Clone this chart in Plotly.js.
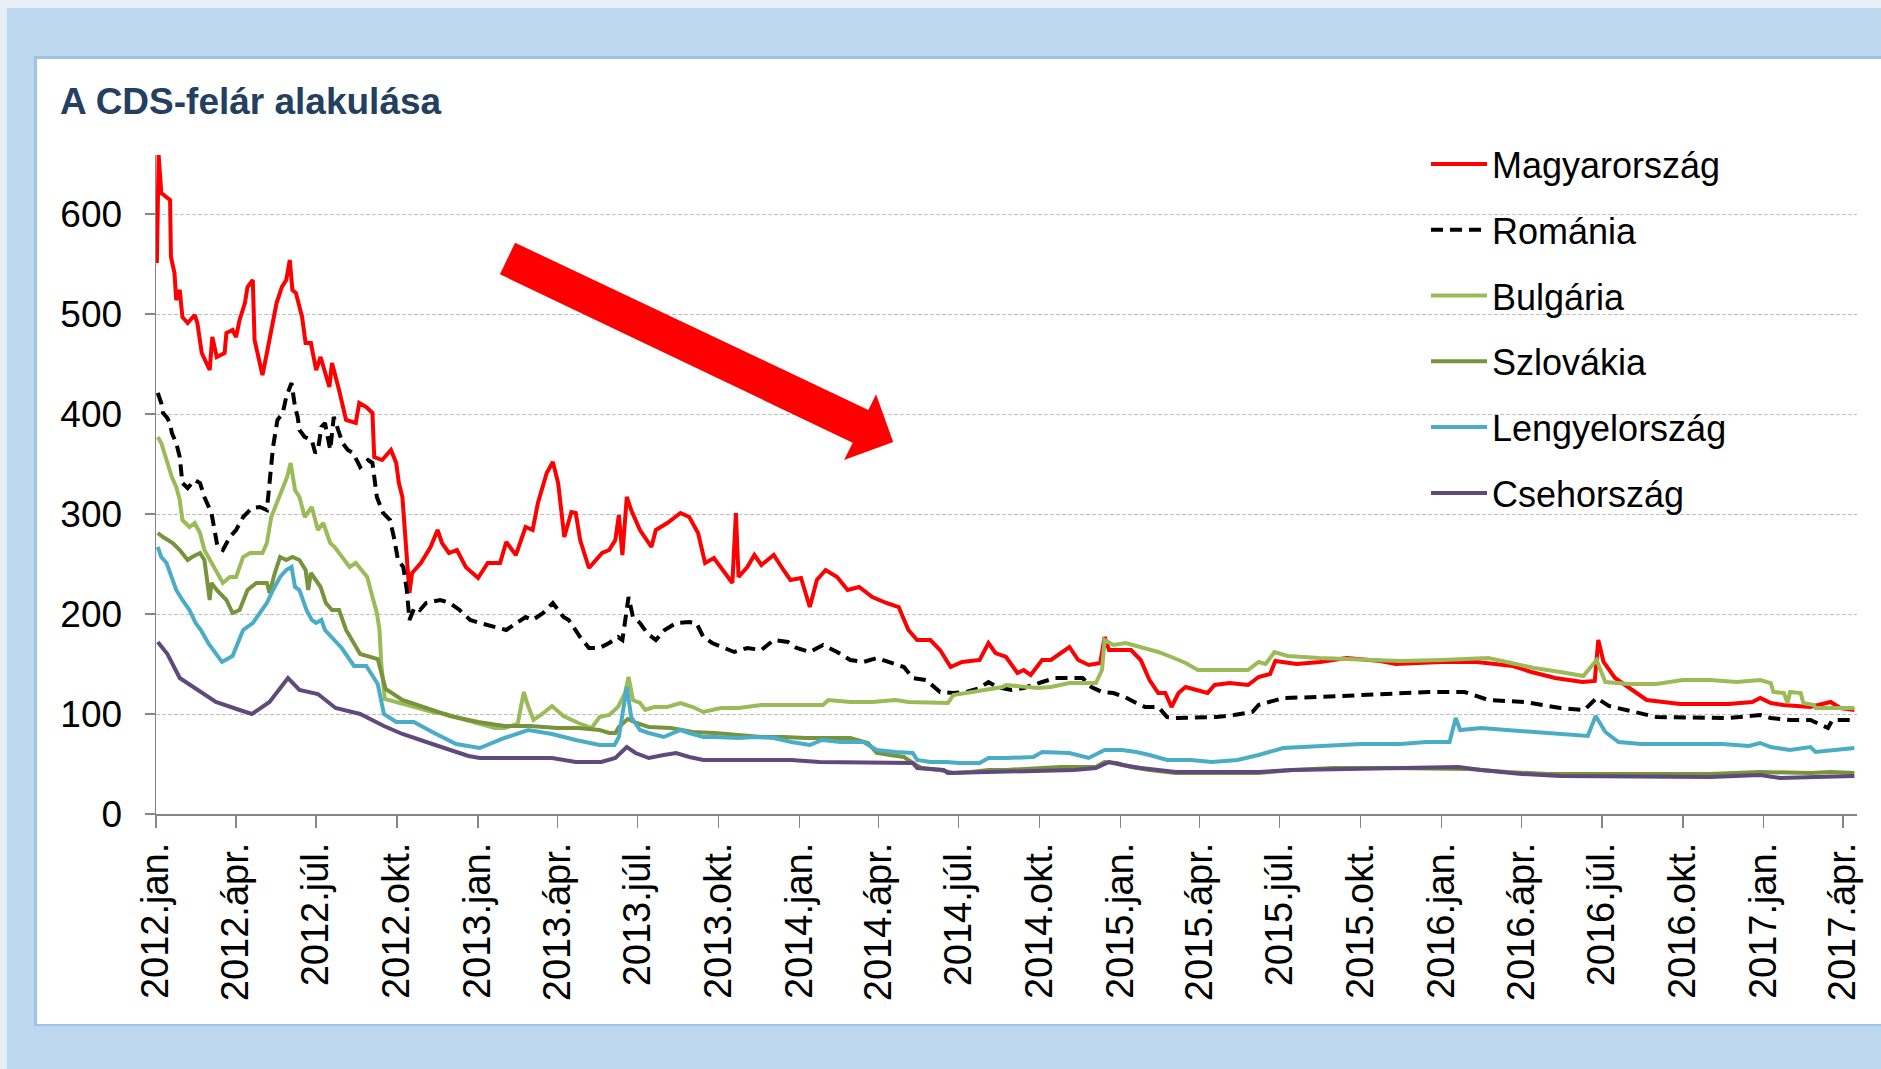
<!DOCTYPE html>
<html>
<head>
<meta charset="utf-8">
<script src="https://cdn.plot.ly/plotly-3.0.1.min.js"></script>
<style>
  html, body { margin:0; padding:0; background:#E8EEF6; }
  #bg { position:absolute; left:7px; top:8px; width:1874px; height:1061px; background:#BDD7EE; }
  #panel { position:absolute; left:34px; top:56px; width:1847px; height:970px; background:#FFFFFF;
           border-left:3px solid #9DC3E6; border-top:3px solid #9DC3E6; border-bottom:2px solid #9DC3E6; box-sizing:border-box; }
  #chart { position:absolute; left:0; top:0; width:1881px; height:1069px; }
</style>
</head>
<body>
<div id="bg"></div>
<div id="panel"></div>
<div id="chart"></div>
<script>
// ---- Data (bp) ----
const seriesNames = ['Magyarország','Románia','Bulgária','Szlovákia','Lengyelország','Csehország'];

const huDates = ['2012-01-02','2012-01-04','2012-01-07','2012-01-17','2012-01-18','2012-01-22','2012-01-24','2012-01-28','2012-01-31','2012-02-06','2012-02-14','2012-02-17','2012-02-22','2012-03-02','2012-03-05','2012-03-10','2012-03-19','2012-03-21','2012-03-28','2012-04-01','2012-04-05','2012-04-11','2012-04-14','2012-04-20','2012-04-22','2012-05-01','2012-05-06','2012-05-17','2012-05-23','2012-05-28','2012-06-01','2012-06-04','2012-06-08','2012-06-15','2012-06-19','2012-06-25','2012-07-01','2012-07-06','2012-07-16','2012-07-19','2012-07-27','2012-08-04','2012-08-15','2012-08-19','2012-08-27','2012-09-03','2012-09-05','2012-09-14','2012-09-24','2012-09-30','2012-10-03','2012-10-07','2012-10-15','2012-10-18','2012-10-28','2012-11-08','2012-11-16','2012-11-21','2012-11-29','2012-12-08','2012-12-18','2013-01-01','2013-01-12','2013-01-26','2013-02-02','2013-02-13','2013-02-24','2013-03-04','2013-03-10','2013-03-20','2013-03-27','2013-04-02','2013-04-09','2013-04-17','2013-04-22','2013-04-27','2013-05-07','2013-05-15','2013-05-22','2013-05-30','2013-06-06','2013-06-10','2013-06-14','2013-06-19','2013-06-24','2013-07-04','2013-07-17','2013-07-22','2013-08-04','2013-08-19','2013-08-29','2013-09-08','2013-09-16','2013-09-26','2013-10-09','2013-10-17','2013-10-21','2013-10-24','2013-11-03','2013-11-11','2013-11-19','2013-12-03','2013-12-14','2013-12-22','2014-01-03','2014-01-13','2014-01-21','2014-01-31','2014-02-13','2014-02-25','2014-03-10','2014-03-25','2014-04-10','2014-04-24','2014-05-05','2014-05-15','2014-05-30','2014-06-10','2014-06-22','2014-07-05','2014-07-25','2014-08-04','2014-08-12','2014-08-24','2014-09-06','2014-09-13','2014-09-21','2014-10-04','2014-10-14','2014-11-04','2014-11-14','2014-11-26','2014-12-09','2014-12-14','2014-12-19','2015-01-13','2015-01-24','2015-02-03','2015-02-13','2015-02-21','2015-02-28','2015-03-08','2015-03-16','2015-03-30','2015-04-10','2015-04-18','2015-05-05','2015-05-26','2015-06-07','2015-06-20','2015-06-26','2015-07-20','2015-08-16','2015-09-15','2015-10-23','2015-11-10','2015-12-31','2016-02-10','2016-03-22','2016-04-12','2016-05-09','2016-06-09','2016-06-23','2016-06-27','2016-07-03','2016-07-16','2016-08-05','2016-08-21','2016-09-28','2016-11-22','2016-12-19','2016-12-28','2017-01-09','2017-01-23','2017-02-23','2017-03-18','2017-03-29','2017-04-14'];
const huValues = [551,659,621,614,557,541,514,524,497,491,499,491,461,444,477,457,461,481,484,477,494,511,527,534,474,439,461,511,527,534,554,524,521,497,471,471,444,457,427,451,424,394,391,411,407,401,357,354,364,351,331,317,221,241,251,267,284,271,261,264,247,236,251,251,272,259,287,284,311,341,352,331,277,302,301,274,246,254,261,264,274,299,259,317,304,284,267,284,291,301,297,281,251,256,241,231,301,237,247,259,249,259,244,234,236,207,234,244,237,224,227,217,211,207,184,174,174,164,147,152,154,171,161,157,141,144,139,154,154,167,154,149,151,177,164,164,154,134,121,121,107,121,127,124,121,129,131,129,137,140,153,150,152,156,153,150,152,152,148,142,136,132,133,174,152,136,124,114,110,110,112,116,111,109,107,112,106,104];

const roDates = ['2012-01-03','2012-01-07','2012-01-09','2012-01-13','2012-01-17','2012-01-19','2012-01-24','2012-01-28','2012-01-31','2012-02-06','2012-02-14','2012-02-20','2012-02-25','2012-03-04','2012-03-11','2012-03-17','2012-03-25','2012-04-01','2012-04-09','2012-04-19','2012-04-28','2012-05-06','2012-05-09','2012-05-13','2012-05-18','2012-05-24','2012-05-28','2012-06-03','2012-06-07','2012-06-10','2012-06-12','2012-06-18','2012-06-26','2012-06-30','2012-07-03','2012-07-07','2012-07-11','2012-07-17','2012-07-21','2012-07-26','2012-07-31','2012-08-06','2012-08-12','2012-08-20','2012-08-29','2012-09-03','2012-09-08','2012-09-15','2012-09-23','2012-09-28','2012-10-02','2012-10-08','2012-10-12','2012-10-15','2012-10-21','2012-10-27','2012-11-03','2012-11-19','2012-11-30','2012-12-11','2012-12-23','2013-01-03','2013-01-18','2013-02-02','2013-02-24','2013-03-04','2013-03-16','2013-03-27','2013-04-08','2013-04-14','2013-04-27','2013-05-07','2013-05-19','2013-05-30','2013-06-09','2013-06-14','2013-06-21','2013-06-26','2013-07-04','2013-07-12','2013-07-22','2013-08-01','2013-08-14','2013-08-29','2013-09-06','2013-09-14','2013-09-24','2013-10-06','2013-10-19','2013-11-03','2013-11-19','2013-12-03','2013-12-19','2013-12-29','2014-01-13','2014-01-28','2014-02-13','2014-02-28','2014-03-15','2014-03-30','2014-04-14','2014-04-30','2014-05-10','2014-05-25','2014-06-10','2014-06-25','2014-07-10','2014-07-25','2014-08-04','2014-08-14','2014-08-30','2014-09-13','2014-10-04','2014-10-19','2014-11-04','2014-11-19','2014-11-29','2014-12-11','2014-12-24','2015-01-06','2015-01-19','2015-01-29','2015-02-13','2015-02-23','2015-03-05','2015-03-30','2015-04-20','2015-05-10','2015-05-31','2015-06-07','2015-07-05','2015-08-16','2015-10-23','2015-12-17','2016-01-27','2016-02-23','2016-04-04','2016-05-15','2016-06-11','2016-06-25','2016-07-09','2016-07-29','2016-09-01','2016-11-22','2016-12-19','2016-12-28','2017-01-09','2017-01-31','2017-02-23','2017-03-15','2017-03-20','2017-04-14'];
const roValues = [421,411,401,397,391,381,371,357,331,326,334,331,317,301,267,264,277,284,297,306,307,304,331,367,394,401,417,431,407,397,384,377,374,361,364,387,391,364,397,384,371,364,361,347,354,351,317,301,294,274,254,247,224,194,207,204,211,214,211,204,194,191,187,184,197,194,201,211,197,194,177,166,166,171,177,174,217,197,191,181,174,184,191,192,191,177,171,167,162,166,164,174,172,166,162,169,162,154,152,156,152,147,136,134,122,121,122,126,132,127,124,126,132,136,136,136,127,122,121,117,111,107,107,97,96,96,97,99,102,109,116,117,120,122,122,114,112,106,104,116,108,104,97,96,99,99,96,94,94,86,94,94];

const bgDates = ['2012-01-03','2012-01-07','2012-01-13','2012-01-19','2012-01-24','2012-01-28','2012-01-31','2012-02-08','2012-02-14','2012-02-20','2012-02-25','2012-03-04','2012-03-10','2012-03-17','2012-03-25','2012-04-01','2012-04-09','2012-04-17','2012-05-01','2012-05-06','2012-05-11','2012-05-17','2012-05-24','2012-05-29','2012-06-02','2012-06-07','2012-06-12','2012-06-18','2012-06-26','2012-07-03','2012-07-09','2012-07-17','2012-07-22','2012-07-31','2012-08-08','2012-08-15','2012-08-22','2012-08-28','2012-09-03','2012-09-08','2012-09-11','2012-09-13','2012-09-17','2012-10-01','2012-10-15','2012-10-25','2012-11-10','2012-11-25','2012-12-10','2012-12-25','2013-01-05','2013-01-20','2013-01-31','2013-02-15','2013-02-22','2013-02-26','2013-03-05','2013-03-15','2013-03-26','2013-04-08','2013-04-25','2013-05-10','2013-05-19','2013-05-30','2013-06-09','2013-06-17','2013-06-21','2013-06-26','2013-07-04','2013-07-10','2013-07-20','2013-08-04','2013-08-19','2013-09-02','2013-09-14','2013-10-04','2013-10-24','2013-11-03','2013-11-19','2013-12-14','2014-01-08','2014-01-28','2014-02-03','2014-02-28','2014-03-25','2014-04-20','2014-05-05','2014-05-30','2014-06-19','2014-06-25','2014-08-20','2014-08-24','2014-09-29','2014-10-14','2014-11-04','2014-12-04','2014-12-11','2014-12-14','2014-12-24','2015-01-07','2015-01-24','2015-02-13','2015-02-28','2015-03-16','2015-03-30','2015-04-15','2015-05-26','2015-06-07','2015-06-15','2015-06-25','2015-07-10','2015-08-15','2015-10-01','2015-11-15','2016-01-01','2016-02-23','2016-03-15','2016-04-15','2016-05-15','2016-06-10','2016-06-25','2016-07-05','2016-08-01','2016-09-01','2016-10-01','2016-11-01','2016-12-01','2016-12-28','2017-01-09','2017-01-12','2017-01-24','2017-01-28','2017-01-31','2017-02-12','2017-02-15','2017-02-27','2017-03-01','2017-04-14'];
const bgValues = [377,371,354,337,327,314,294,287,291,281,264,251,241,231,237,237,257,261,261,271,297,311,327,337,351,324,317,297,307,284,291,271,267,257,247,251,244,237,217,201,184,150,115,112,108,106,102,100,96,92,90,86,86,90,122,110,94,100,108,98,91,86,97,99,107,121,137,114,111,104,107,107,111,107,102,106,106,107,109,109,109,109,114,112,112,114,112,112,111,119,127,129,126,127,131,131,144,174,169,171,167,162,157,151,144,144,144,152,150,162,158,156,154,153,154,156,152,146,142,138,154,132,130,130,134,134,132,134,131,122,121,111,122,121,111,109,106,106];

const skDates = ['2012-01-03','2012-01-09','2012-01-20','2012-01-28','2012-02-06','2012-02-11','2012-02-20','2012-02-25','2012-03-02','2012-03-04','2012-03-10','2012-03-21','2012-03-28','2012-04-05','2012-04-14','2012-04-24','2012-05-06','2012-05-09','2012-05-15','2012-05-21','2012-05-28','2012-06-04','2012-06-12','2012-06-19','2012-06-22','2012-06-25','2012-07-06','2012-07-12','2012-07-19','2012-07-27','2012-08-04','2012-08-20','2012-09-09','2012-09-18','2012-10-07','2012-10-27','2012-11-30','2013-01-01','2013-01-31','2013-03-01','2013-04-01','2013-04-25','2013-05-19','2013-05-30','2013-06-06','2013-06-10','2013-06-20','2013-06-30','2013-07-14','2013-08-08','2013-09-02','2013-09-27','2013-10-24','2013-11-19','2013-12-14','2014-01-08','2014-02-13','2014-02-28','2014-03-20','2014-03-30','2014-04-14','2014-04-30','2014-05-10','2014-05-20','2014-06-10','2014-06-25','2014-07-15','2014-08-04','2014-08-24','2014-09-24','2014-10-25','2014-12-04','2014-12-14','2014-12-28','2015-01-13','2015-02-03','2015-03-05','2015-04-10','2015-06-07','2015-07-15','2015-09-01','2015-11-01','2016-01-01','2016-02-01','2016-03-15','2016-05-01','2016-07-01','2016-09-01','2016-11-01','2016-12-28','2017-02-23','2017-03-18','2017-04-14'];
const skValues = [281,277,271,264,254,257,261,254,214,231,224,214,201,204,224,231,231,221,241,257,254,257,254,244,224,241,227,211,204,204,184,160,155,125,114,108,98,92,88,88,86,86,84,81,81,87,95,91,87,86,82,81,79,77,77,76,76,76,71,61,59,57,51,46,44,41,42,44,44,46,47,47,52,51,47,44,41,41,41,44,46,46,46,45,42,40,40,40,40,42,41,42,41];

const plDates = ['2012-01-03','2012-01-07','2012-01-13','2012-01-19','2012-01-24','2012-01-31','2012-02-08','2012-02-15','2012-02-21','2012-03-01','2012-03-16','2012-03-28','2012-04-09','2012-04-20','2012-05-06','2012-05-13','2012-05-21','2012-05-28','2012-06-03','2012-06-07','2012-06-12','2012-06-20','2012-06-26','2012-07-01','2012-07-07','2012-07-11','2012-07-30','2012-08-13','2012-08-27','2012-09-09','2012-09-16','2012-09-30','2012-10-20','2012-11-10','2012-12-07','2013-01-03','2013-01-31','2013-02-27','2013-03-26','2013-04-22','2013-05-19','2013-06-05','2013-06-10','2013-06-19','2013-06-24','2013-07-04','2013-07-14','2013-07-31','2013-08-19','2013-08-29','2013-09-14','2013-09-27','2013-10-24','2013-11-12','2013-12-03','2013-12-23','2014-01-13','2014-01-27','2014-02-17','2014-03-15','2014-03-30','2014-04-20','2014-05-10','2014-05-15','2014-05-30','2014-06-17','2014-07-02','2014-07-25','2014-08-04','2014-08-24','2014-09-24','2014-10-04','2014-11-04','2014-11-26','2014-12-14','2015-01-03','2015-01-19','2015-02-03','2015-02-23','2015-03-22','2015-04-15','2015-05-14','2015-06-07','2015-07-05','2015-08-15','2015-10-01','2015-11-15','2015-12-15','2016-01-10','2016-01-17','2016-01-22','2016-02-15','2016-03-15','2016-04-15','2016-05-15','2016-06-15','2016-06-24','2016-07-05','2016-07-20','2016-08-15','2016-10-01','2016-11-15','2016-12-15','2016-12-28','2017-01-09','2017-01-31','2017-02-23','2017-03-01','2017-04-14'];
const plValues = [267,257,251,237,224,214,204,191,184,170,152,158,184,191,211,224,237,244,247,227,224,204,194,191,194,184,166,148,148,130,100,92,92,82,70,66,76,84,80,74,69,69,77,127,97,84,81,77,84,81,77,77,76,77,76,72,69,74,72,72,64,62,61,54,52,52,51,51,56,56,57,62,61,56,64,64,62,59,54,54,52,54,59,66,68,70,70,72,72,96,84,86,84,82,80,78,98,82,72,70,70,70,68,71,67,64,67,62,66];

const czDates = ['2012-01-03','2012-01-14','2012-01-28','2012-02-17','2012-03-09','2012-04-05','2012-04-19','2012-05-09','2012-05-30','2012-06-12','2012-07-03','2012-07-23','2012-08-20','2012-09-16','2012-10-07','2012-11-10','2012-12-21','2013-01-03','2013-02-15','2013-03-26','2013-04-22','2013-05-21','2013-06-06','2013-06-19','2013-06-29','2013-07-14','2013-07-31','2013-08-14','2013-08-29','2013-09-14','2013-12-03','2013-12-23','2014-01-24','2014-02-28','2014-03-25','2014-05-10','2014-05-15','2014-06-14','2014-06-19','2014-07-30','2014-08-24','2014-10-04','2014-11-09','2014-12-04','2014-12-19','2015-01-03','2015-01-24','2015-03-05','2015-04-09','2015-06-07','2015-07-15','2015-09-15','2015-11-01','2015-12-15','2016-01-20','2016-02-15','2016-04-01','2016-05-15','2016-07-01','2016-09-01','2016-11-01','2016-12-28','2017-01-20','2017-03-01','2017-04-14'];
const czValues = [172,160,136,124,112,104,100,112,136,124,120,106,100,88,80,70,58,56,56,56,52,52,56,67,61,56,59,61,57,54,54,54,52,52,52,51,46,44,41,42,42,44,44,46,52,49,46,42,42,42,44,45,46,46,47,44,40,38,38,37,37,39,36,37,38];

const tickDates = ['2012-01-01','2012-04-01','2012-07-01','2012-10-01','2013-01-01','2013-04-01','2013-07-01','2013-10-01','2014-01-01','2014-04-01','2014-07-01','2014-10-01','2015-01-01','2015-04-01','2015-07-01','2015-10-01','2016-01-01','2016-04-01','2016-07-01','2016-10-01','2017-01-01','2017-04-01'];
const tickLabels = ['2012.jan.','2012.ápr.','2012.júl.','2012.okt.','2013.jan.','2013.ápr.','2013.júl.','2013.okt.','2014.jan.','2014.ápr.','2014.júl.','2014.okt.','2015.jan.','2015.ápr.','2015.júl.','2015.okt.','2016.jan.','2016.ápr.','2016.júl.','2016.okt.','2017.jan.','2017.ápr.'];
const yTicks = [0,100,200,300,400,500,600];

// ---- Styling ----
const colors = ['#FF0000','#000000','#9BBB59','#77933C','#4BACC6','#604A7B'];
const dashes = ['solid','12px,7px','solid','solid','solid','solid'];
const xs = [huDates, roDates, bgDates, skDates, plDates, czDates];
const ys = [huValues, roValues, bgValues, skValues, plValues, czValues];

const traces = seriesNames.map((name, i) => ({
  type: 'scatter', mode: 'lines', name: name,
  x: xs[i], y: ys[i],
  legendgroup: 'g' + i,
  line: { color: colors[i], width: 4, dash: dashes[i] },
  hoverinfo: 'x+y+name'
}));

const FONT = 'Liberation Sans, Arial, Helvetica, sans-serif';
const layout = {
  width: 1881, height: 1069,
  margin: { l: 156, r: 24, t: 155, b: 255, pad: 0, autoexpand: false },
  paper_bgcolor: 'rgba(0,0,0,0)',
  plot_bgcolor: 'rgba(0,0,0,0)',
  font: { family: FONT, color: '#000000' },
  title: {
    text: 'A CDS-felár alakulása',
    font: { family: FONT, size: 37, color: '#243F60', weight: 700 },
    xref: 'container', x: 60 / 1881, xanchor: 'left',
    yref: 'container', y: 1 - 88 / 1069, yanchor: 'top'
  },
  xaxis: {
    type: 'date',
    range: ['2012-01-01', '2017-04-17'],
    tickmode: 'array', tickvals: tickDates, ticktext: tickLabels,
    tickangle: -90,
    tickfont: { family: FONT, size: 38, color: '#000000' },
    ticks: 'outside', ticklen: 12, tickwidth: 1.5, tickcolor: '#868686',
    showline: true, linecolor: '#868686', linewidth: 1.5,
    showgrid: false, zeroline: false, fixedrange: true
  },
  yaxis: {
    range: [0, 659],
    tickmode: 'array', tickvals: yTicks,
    tickfont: { family: FONT, size: 37, color: '#000000' },
    ticks: 'outside', ticklen: 10, tickwidth: 1.5, tickcolor: '#868686',
    ticklabelstandoff: 15,
    showline: true, linecolor: '#868686', linewidth: 1.5,
    showgrid: true, gridcolor: '#C0C0C0', gridwidth: 1, griddash: '4px,2px',
    zeroline: false, fixedrange: true
  },
  showlegend: true,
  legend: {
    xref: 'container', x: 1426 / 1881, xanchor: 'left',
    yref: 'container', y: 1 - 134 / 1069, yanchor: 'top',
    font: { family: FONT, size: 36, color: '#000000' },
    bgcolor: 'rgba(0,0,0,0)', borderwidth: 0,
    itemwidth: 56, traceorder: 'grouped', tracegroupgap: 16
  },
  shapes: [{
    type: 'path', xref: 'paper', yref: 'paper', layer: 'above',
    path: 'M0.2111,0.8669 L0.4188,0.6131 L0.4233,0.6369 L0.4334,0.5645 L0.4045,0.5372 L0.4096,0.5634 L0.2022,0.8190 Z',
    fillcolor: '#FF0000', line: { width: 0 }
  }]
};

Plotly.newPlot('chart', traces, layout, { displayModeBar: false, staticPlot: true });
</script>
</body>
</html>
